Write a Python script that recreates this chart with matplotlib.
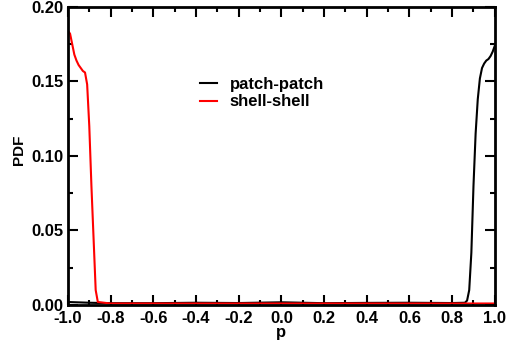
"""PDF of the orientation parameter p for patch-patch and shell-shell pairs."""

import matplotlib

matplotlib.use("Agg")
import matplotlib.pyplot as plt
from matplotlib.ticker import MultipleLocator

# patch-patch: flat near zero, sharp peak close to p = 1
p_patch = [-1.00, -0.90, -0.80, -0.60, -0.40, -0.20, 0.00, 0.20, 0.40, 0.60, 0.80,
           0.86, 0.87, 0.88, 0.89, 0.90, 0.91, 0.92, 0.93, 0.94, 0.95, 0.96,
           0.97, 0.98, 0.99, 1.00]
pdf_patch = [0.0020, 0.0015, 0.0012, 0.0012, 0.0015, 0.0013, 0.0018, 0.0012, 0.0014,
             0.0015, 0.0013, 0.0015, 0.0030, 0.0100, 0.0350, 0.0800, 0.1150, 0.1380,
             0.1520, 0.1590, 0.1620, 0.1640, 0.1650, 0.1670, 0.1700, 0.1740]

# shell-shell: peak close to p = -1, flat afterwards
p_shell = [-1.00, -0.99, -0.98, -0.97, -0.96, -0.95, -0.94, -0.93, -0.92, -0.91,
           -0.90, -0.89, -0.88, -0.87, -0.86, -0.80, -0.60, -0.40, -0.20, 0.00,
           0.20, 0.40, 0.60, 0.80, 1.00]
pdf_shell = [0.1840, 0.1820, 0.1750, 0.1680, 0.1640, 0.1610, 0.1590, 0.1570, 0.1560,
             0.1480, 0.1200, 0.0800, 0.0450, 0.0100, 0.0020, 0.0010, 0.0010, 0.0010,
             0.0010, 0.0010, 0.0010, 0.0010, 0.0010, 0.0010, 0.0010]

plt.rcParams["font.family"] = ["Liberation Sans", "DejaVu Sans"]
plt.rcParams["font.weight"] = "bold"
fs = 12

fig = plt.figure(figsize=(5.07, 3.45), dpi=100)
ax = fig.add_axes([0.134, 0.116, 0.842, 0.864])

ax.plot(p_patch, pdf_patch, color="black", lw=1.5, label="patch-patch")
ax.plot(p_shell, pdf_shell, color="red", lw=1.5, label="shell-shell")

ax.set_xlim(-1.0, 1.0)
ax.set_ylim(0.0, 0.20)
ax.xaxis.set_major_locator(MultipleLocator(0.2))
ax.xaxis.set_minor_locator(MultipleLocator(0.1))
ax.yaxis.set_major_locator(MultipleLocator(0.05))
ax.yaxis.set_minor_locator(MultipleLocator(0.025))
ax.xaxis.set_major_formatter(lambda v, pos: f"{v:.1f}".replace("-0.0", "0.0"))
ax.yaxis.set_major_formatter(lambda v, pos: f"{v:.2f}")

ax.tick_params(which="both", direction="in", top=True, right=True, width=1.5)
ax.tick_params(which="major", length=7)
ax.tick_params(which="minor", length=3.5)
ax.tick_params(axis="x", which="major", labelsize=fs, pad=4)
ax.tick_params(axis="y", which="major", labelsize=fs, pad=3)
for s in ax.spines.values():
    s.set_linewidth(2)

ax.set_xlabel("p", fontsize=fs, fontweight="bold")
ax.xaxis.set_label_coords(0.5, -0.068)
ax.set_ylabel("PDF", fontsize=11, fontweight="bold")
ax.yaxis.set_label_coords(-0.098, 0.52)

ax.legend(loc="upper left", bbox_to_anchor=(0.31, 0.765), frameon=False,
          fontsize=fs, handlelength=1.0, handletextpad=0.75, labelspacing=0.15,
          borderpad=0, borderaxespad=0)

fig.savefig("out.png", dpi=100)
